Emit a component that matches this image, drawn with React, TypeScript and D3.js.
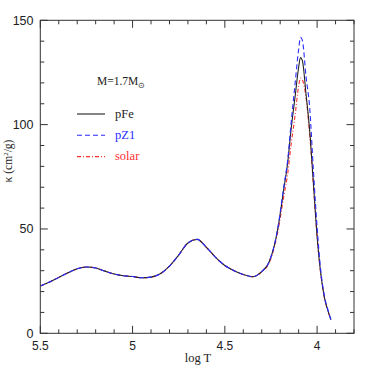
import * as d3 from "d3";

// log T grid (descending) and opacity per model
const logT = [5.5, 5.45, 5.4, 5.35, 5.3, 5.25, 5.2, 5.15, 5.1, 5.05, 5.0, 4.95, 4.9, 4.85, 4.8, 4.75, 4.7, 4.65, 4.6, 4.55, 4.5, 4.45, 4.4, 4.35, 4.3, 4.26, 4.23, 4.21, 4.18, 4.16, 4.14, 4.12, 4.1, 4.09, 4.08, 4.06, 4.04, 4.02, 4.0, 3.98, 3.96, 3.94, 3.925];
const pFe = [22.7, 24.6, 26.8, 29.0, 30.9, 31.8, 31.3, 29.8, 28.4, 27.6, 27.2, 26.6, 26.9, 28.5, 32.2, 37.5, 43.3, 45.0, 41.2, 36.4, 32.5, 30.0, 28.2, 27.1, 29.6, 34.2, 42.7, 51.6, 69.5, 81.3, 98.5, 112.8, 127.5, 132.2, 130.8, 114.7, 97.0, 72.0, 46.5, 28.5, 17.0, 10.5, 6.5];
const pZ1 = [22.7, 24.6, 26.8, 29.0, 30.9, 31.8, 31.3, 29.8, 28.4, 27.6, 27.2, 26.6, 26.9, 28.5, 32.2, 37.5, 43.3, 45.0, 41.2, 36.4, 32.5, 30.0, 28.2, 27.1, 29.6, 34.2, 42.9, 52.0, 70.5, 82.5, 101.5, 119.0, 136.0, 141.8, 140.5, 123.0, 108.0, 78.0, 51.0, 30.0, 17.8, 10.8, 6.6];
const solar = [22.7, 24.6, 26.8, 29.0, 30.9, 31.8, 31.3, 29.8, 28.4, 27.6, 27.2, 26.6, 26.9, 28.5, 32.2, 37.5, 43.3, 45.0, 41.2, 36.4, 32.5, 30.0, 28.2, 27.1, 29.5, 33.8, 41.8, 50.0, 66.0, 76.0, 91.0, 104.0, 118.5, 122.3, 121.5, 113.0, 95.0, 71.0, 46.0, 28.3, 16.9, 10.4, 6.5];

const xTicks = [5.5, 5, 4.5, 4];
const yTicks = [0, 50, 100, 150];

const series = [
  { name: "pFe", values: pFe, color: "#222222", dash: "none" },
  { name: "pZ1", values: pZ1, color: "#2a2aff", dash: "5,3" },
  { name: "solar", values: solar, color: "#ff3030", dash: "4,2,1,2" },
];
// draw order: solar under, then pFe, blue on top
const drawOrder = [2, 0, 1];

export default function App() {
  const left = 40.3, right = 354, top = 20.3, bottom = 333.3;
  const x = d3.scaleLinear().domain([5.5, 3.8]).range([left, right]);
  const y = d3.scaleLinear().domain([0, 150]).range([bottom, top]);

  const line = (vals: number[]) =>
    d3
      .line<number>()
      .x((_, i) => x(logT[i]))
      .y((d) => y(d))
      .curve(d3.curveMonotoneX)(vals) as string;

  const xMinor = d3.range(55, 37, -1).map((d) => d / 10);
  const yMinor = d3.range(0, 151, 10);
  const axis = "#333";
  const sans = "'Liberation Sans', Arial, sans-serif";
  const serif = "'Liberation Serif', 'Times New Roman', serif";

  return (
    <svg width={374} height={374} style={{ position: "absolute", left: 0, top: 0 }}>
      <rect width={374} height={374} fill="#fff" />
      <defs>
        <clipPath id="clip">
          <rect x={left} y={top} width={right - left} height={bottom - top} />
        </clipPath>
      </defs>
      <g clipPath="url(#clip)">
        {drawOrder.map((k) => {
          const s = series[k];
          return <path key={s.name} d={line(s.values)} fill="none" stroke={s.color} strokeWidth={1.1} strokeDasharray={s.dash} />;
        })}
      </g>
      <rect x={left} y={top} width={right - left} height={bottom - top} fill="none" stroke={axis} strokeWidth={1} />
      {xMinor.map((t) => {
        const major = Math.abs(t * 2 - Math.round(t * 2)) < 1e-6;
        const len = major ? 7.5 : 4;
        return (
          <g key={"x" + t} stroke={axis}>
            <line x1={x(t)} x2={x(t)} y1={bottom} y2={bottom - len} />
            <line x1={x(t)} x2={x(t)} y1={top} y2={top + len} />
          </g>
        );
      })}
      {yMinor.map((t) => {
        const major = t % 50 === 0;
        const len = major ? 7.5 : 4;
        return (
          <g key={"y" + t} stroke={axis}>
            <line x1={left} x2={left + len} y1={y(t)} y2={y(t)} />
            <line x1={right} x2={right - len} y1={y(t)} y2={y(t)} />
          </g>
        );
      })}
      {xTicks.map((t) => (
        <text key={"xl" + t} x={x(t)} y={349.5} textAnchor="middle" fontFamily={sans} fontSize={12} fill="#222">
          {String(t)}
        </text>
      ))}
      {yTicks.map((t) => (
        <text key={"yl" + t} x={33.5} y={y(t) + 4.3} textAnchor="end" fontFamily={sans} fontSize={12.5} fill="#222">
          {String(t)}
        </text>
      ))}
      <text x={198} y={361.5} textAnchor="middle" fontFamily={serif} fontSize={12.5} fill="#222">
        log  T
      </text>
      <text transform="translate(12,161) rotate(-90)" textAnchor="middle" fontFamily={serif} fontSize={11.5} fill="#222">
        κ (cm<tspan dy={-4} fontSize={7}>2</tspan><tspan dy={4}>/g)</tspan>
      </text>
      <text x={97} y={85} fontFamily={serif} fontSize={11.5} fill="#222">
        M=1.7M<tspan dy={3} fontSize={8}>⊙</tspan>
      </text>
      {series.map((s, i) => (
        <g key={"lg" + s.name}>
          <line x1={77} x2={105} y1={114 + i * 21.3} y2={114 + i * 21.3} stroke={s.color} strokeWidth={1.1} strokeDasharray={s.dash} />
          <text x={115} y={117.8 + i * 21.3} fontFamily={serif} fontSize={12.5} fill={i === 0 ? "#222" : s.color}>
            {s.name}
          </text>
        </g>
      ))}
    </svg>
  );
}
